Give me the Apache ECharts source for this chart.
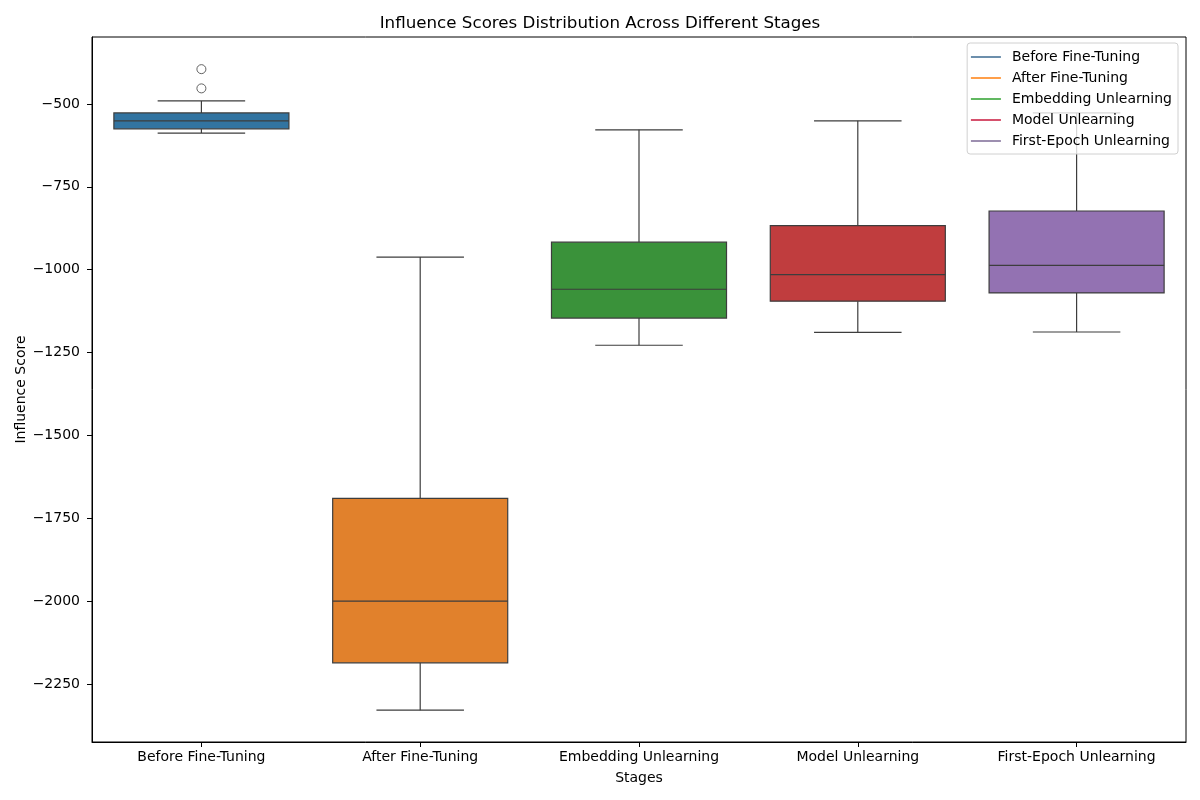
<!DOCTYPE html>
<html>
<head>
<meta charset="utf-8">
<script src="https://cdn.jsdelivr.net/npm/echarts@6/dist/echarts.min.js"></script>
<style>html,body{margin:0;padding:0;background:#fff;}#c{width:1200px;height:800px;}</style>
</head>
<body>
<div id="c"></div>
<script>
const categories = ['Before Fine-Tuning', 'After Fine-Tuning', 'Embedding Unlearning', 'Model Unlearning', 'First-Epoch Unlearning'];
const whiskerLow  = [-588, -2329, -1228, -1189, -1188];
const q1          = [-575, -2186, -1146, -1095, -1070];
const median      = [-551, -2000, -1059, -1015, -987];
const q3          = [-527, -1690, -917, -867, -823];
const whiskerHigh = [-491, -962, -578, -551, -527];
const outliers    = [[0, -395], [0, -453]];
const yTicks      = [-2250, -2000, -1750, -1500, -1250, -1000, -750, -500];

const boxColors    = ['#3274a1', '#e1812c', '#3a923a', '#c03d3e', '#9372b2'];
const legendColors = ['#3b6a91', '#ff7f0e', '#2ca02c', '#c8173c', '#7c6a96'];
const lineColor = '#3d3d3d';
const FONT = 'DejaVu Sans';

const boxData = categories.map((c, i) => [i, whiskerLow[i], q1[i], median[i], q3[i], whiskerHigh[i]]);

function renderBox(params, api) {
  const i = api.value(0);
  const pLow = api.coord([i, api.value(1)]);
  const pQ1 = api.coord([i, api.value(2)]);
  const pMed = api.coord([i, api.value(3)]);
  const pQ3 = api.coord([i, api.value(4)]);
  const pHigh = api.coord([i, api.value(5)]);
  const band = api.size([1, 0])[0];
  const bw = band * 0.8;
  const cw = bw / 2;
  const cx = pMed[0];
  const ls = { stroke: lineColor, lineWidth: 1.2 };
  return {
    type: 'group',
    children: [
      { type: 'line', shape: { x1: cx, y1: pQ3[1], x2: cx, y2: pHigh[1] }, style: ls },
      { type: 'line', shape: { x1: cx, y1: pQ1[1], x2: cx, y2: pLow[1] }, style: ls },
      { type: 'line', shape: { x1: cx - cw / 2, y1: pHigh[1], x2: cx + cw / 2, y2: pHigh[1] }, style: ls },
      { type: 'line', shape: { x1: cx - cw / 2, y1: pLow[1], x2: cx + cw / 2, y2: pLow[1] }, style: ls },
      { type: 'rect', shape: { x: cx - bw / 2, y: pQ3[1], width: bw, height: pQ1[1] - pQ3[1] },
        style: { fill: boxColors[i], stroke: lineColor, lineWidth: 1.2 } },
      { type: 'line', shape: { x1: cx - bw / 2, y1: pMed[1], x2: cx + bw / 2, y2: pMed[1] }, style: ls }
    ]
  };
}

const chart = echarts.init(document.getElementById('c'));
const series = [
  {
    type: 'custom',
    renderItem: renderBox,
    data: boxData,
    encode: { x: 0, y: [1, 2, 3, 4, 5] },
    z: 2,
    silent: true
  },
  {
    type: 'scatter',
    data: outliers,
    symbol: 'circle',
    symbolSize: 9,
    itemStyle: { color: 'rgba(0,0,0,0)', borderColor: lineColor, borderWidth: 1 },
    z: 3,
    silent: true
  }
];
categories.forEach((c, i) => {
  series.push({
    name: c,
    type: 'line',
    data: [],
    symbol: 'none',
    lineStyle: { color: legendColors[i], width: 1.5 },
    itemStyle: { color: legendColors[i] }
  });
});

chart.setOption({
  animation: false,
  backgroundColor: '#fff',
  textStyle: { fontFamily: FONT },
  title: {
    text: 'Influence Scores Distribution Across Different Stages',
    left: 'center',
    top: 10,
    textStyle: { fontFamily: FONT, fontSize: 16.7, fontWeight: 'normal', color: '#000' }
  },
  legend: {
    data: categories,
    orient: 'vertical',
    right: 22,
    top: 43,
    itemWidth: 30,
    itemHeight: 14,
    itemGap: 7,
    padding: [7, 6, 6, 3],
    backgroundColor: 'rgba(255,255,255,0.8)',
    borderColor: '#d0d0d0',
    borderWidth: 1,
    borderRadius: 3,
    itemStyle: { color: 'rgba(0,0,0,0)', borderWidth: 0, opacity: 0 },
    lineStyle: { width: 1.5 },
    textStyle: { fontFamily: FONT, fontSize: 14, color: '#000', padding: [0, 0, 0, 6] }
  },
  grid: {
    left: 92, right: 14, top: 37, bottom: 58,
    show: true, borderColor: '#000', borderWidth: 1, backgroundColor: 'transparent'
  },
  xAxis: {
    type: 'category',
    data: categories,
    boundaryGap: true,
    name: 'Stages',
    nameLocation: 'middle',
    nameGap: 29,
    nameTextStyle: { fontFamily: FONT, fontSize: 14, color: '#000' },
    axisLine: { show: true, lineStyle: { color: '#000', width: 1 } },
    axisTick: { show: true, alignWithLabel: true, length: 5, lineStyle: { color: '#000' } },
    axisLabel: { fontFamily: FONT, fontSize: 14, color: '#000', margin: 8, interval: 0 },
    splitLine: { show: false }
  },
  yAxis: {
    type: 'value',
    min: -2425,
    max: -298,
    name: 'Influence Score',
    nameLocation: 'middle',
    nameGap: 64,
    nameRotate: 90,
    nameMoveOverlap: false,
    nameTextStyle: { fontFamily: FONT, fontSize: 14, color: '#000' },
    axisLine: { show: true, lineStyle: { color: '#000', width: 1 } },
    axisTick: { show: true, length: 5, lineStyle: { color: '#000' }, customValues: yTicks },
    axisLabel: {
      fontFamily: FONT, fontSize: 14, color: '#000', margin: 12,
      customValues: yTicks,
      formatter: v => String(v).replace('-', '\u2212')
    },
    splitLine: { show: false }
  },
  series: series
});
</script>
</body>
</html>
